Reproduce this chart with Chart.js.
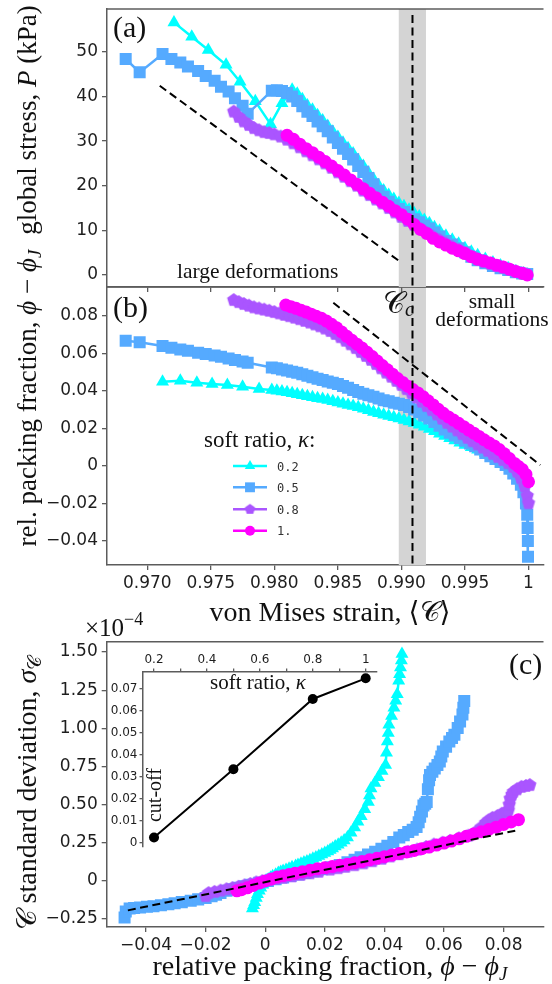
<!DOCTYPE html>
<html><head><meta charset="utf-8">
<script src="https://cdn.jsdelivr.net/npm/chart.js@4.4.0/dist/chart.umd.min.js"></script>
<style>
html,body{margin:0;padding:0;background:#fff;}
#wrap{position:relative;width:552px;height:984px;overflow:hidden;background:#fff;}
canvas{position:absolute;left:0;top:0;}
svg{position:absolute;left:0;top:0;pointer-events:none;}
</style></head><body>
<div id="wrap">
<canvas id="cb" width="552" height="984"></canvas>
<canvas id="ca" width="552" height="984"></canvas>
<canvas id="cc" width="552" height="984"></canvas>
<canvas id="ci" width="552" height="984"></canvas>
<svg width="552" height="984" font-family="'Liberation Serif','DejaVu Serif',serif" fill="#111">
<text x="113" y="37" font-size="30">(a)</text>
<text x="113" y="317" font-size="30">(b)</text>
<text x="509" y="674" font-size="30">(c)</text>
<text x="177" y="278" font-size="21.5">large deformations</text>
<text x="492" y="308" font-size="21.5" text-anchor="middle">small</text>
<text x="492" y="326" font-size="21.5" text-anchor="middle">deformations</text>
<text x="383" y="313" font-size="30">𝒞<tspan font-size="20" font-style="italic" dy="3">c</tspan></text>
<text x="204" y="447" font-size="23">soft ratio, <tspan font-style="italic">κ</tspan>:</text>
<g font-family="'DejaVu Sans Mono',monospace" font-size="12" fill="#333">
<text x="277" y="470.5">0.2</text>
<text x="277" y="491.8">0.5</text>
<text x="277" y="513.8">0.8</text>
<text x="277" y="535.2">1.</text>
</g>
<text transform="translate(36,120) rotate(-90)" text-anchor="middle" font-size="27">global stress, <tspan font-style="italic">P</tspan> (kPa)</text>
<text transform="translate(36,398) rotate(-90)" text-anchor="middle" font-size="27">rel. packing fraction, <tspan font-style="italic">ϕ</tspan> − <tspan font-style="italic">ϕ</tspan><tspan font-style="italic" font-size="19" dy="5">J</tspan></text>
<text transform="translate(36,793) rotate(-90)" text-anchor="middle" font-size="28">𝒞 standard deviation, <tspan font-style="italic">σ</tspan><tspan font-size="19" dy="5">𝒞</tspan></text>
<text x="330" y="621" text-anchor="middle" font-size="28">von Mises strain, ⟨𝒞⟩</text>
<text x="330" y="975" text-anchor="middle" font-size="28">relative packing fraction, <tspan font-style="italic">ϕ</tspan> − <tspan font-style="italic">ϕ</tspan><tspan font-style="italic" font-size="19" dy="5">J</tspan></text>
<text x="85" y="636" font-size="25">×10<tspan font-size="18" dy="-11">−4</tspan></text>
<text x="258" y="689" text-anchor="middle" font-size="21">soft ratio, <tspan font-style="italic">κ</tspan></text>
<text transform="translate(161,795) rotate(-90)" text-anchor="middle" font-size="20">cut-off</text>
</svg>
</div>
<script>
// ---------------- DATA ----------------
const seriesLabels = ['0.2', '0.5', '0.8', '1.'];

// Panel (a): global stress P (kPa) vs von Mises strain
const strainA_k02 = [0.9721,0.9735,0.9748,0.9762,0.9773,0.9785,0.9797,0.9806,0.9814,0.9818,0.9822,0.9826,0.9830,0.9834,0.9838,0.9842,0.9846,0.9850,0.9854,0.9858,0.9862,0.9866,0.9870,0.9874,0.9878,0.9882,0.9886,0.9890,0.9894,0.9898,0.9902,0.9906,0.9910,0.9914,0.9918,0.9922,0.9926,0.9930,0.9935,0.9940,0.9945,0.9950,0.9955,0.9960,0.9966,0.9972,0.9978,0.9984,0.9990,0.9996];
const stressA_k02 = [56.6,53.4,50.4,47.1,43.3,38.9,33.8,38.5,41.5,40.6,39.4,38.0,37.0,35.8,34.6,33.4,32.1,30.9,29.6,28.4,27.2,25.7,24.4,22.9,21.5,20.1,18.9,17.9,17.0,16.1,15.4,14.6,13.8,13.1,12.3,11.6,10.7,9.9,8.8,7.9,7.0,6.0,5.2,4.4,3.6,2.8,2.1,1.5,0.8,0.3];
const strainA_k05 = [0.9683,0.9694,0.9712,0.9719,0.9726,0.9732,0.9740,0.9746,0.9753,0.9758,0.9764,0.9769,0.9775,0.9779,0.9798,0.9802,0.9806,0.9810,0.9814,0.9818,0.9822,0.9826,0.9830,0.9834,0.9838,0.9842,0.9846,0.9850,0.9854,0.9858,0.9862,0.9866,0.9870,0.9874,0.9878,0.9882,0.9886,0.9890,0.9894,0.9898,0.9902,0.9906,0.9910,0.9914,0.9918,0.9922,0.9926,0.9930,0.9935,0.9940,0.9945,0.9950,0.9955,0.9960,0.9966,0.9972,0.9978,0.9984,0.9990,0.9995,0.9999];
const stressA_k05 = [48.4,45.4,49.5,48.4,47.6,46.7,45.7,44.6,43.5,42.2,41.1,39.6,37.9,36.1,41.3,41.4,41.2,40.8,40.0,39.0,37.8,36.6,35.6,34.4,33.3,32.2,30.8,29.6,28.3,27.1,25.9,24.4,23.1,21.7,20.3,18.8,17.5,16.4,15.6,14.8,14.1,13.3,12.5,11.8,11.1,10.4,9.5,8.6,7.6,6.8,6.0,5.1,4.1,3.3,2.6,2.0,1.5,1.1,0.6,0.3,0.2];
const strainA_k08 = [0.9768,0.9772,0.9776,0.9780,0.9784,0.9788,0.9792,0.9796,0.9800,0.9805,0.9810,0.9815,0.9820,0.9825,0.9830,0.9835,0.9840,0.9845,0.9850,0.9855,0.9860,0.9865,0.9870,0.9875,0.9880,0.9885,0.9890,0.9895,0.9900,0.9905,0.9910,0.9915,0.9920,0.9925,0.9930,0.9935,0.9940,0.9945,0.9950,0.9955,0.9960,0.9965,0.9970,0.9975,0.9980,0.9985,0.9990,0.9996];
const stressA_k08 = [36.6,35.4,34.4,33.6,32.9,32.4,32.0,31.8,31.5,31.0,30.3,29.5,28.6,27.7,26.8,25.9,25.0,24.0,23.0,22.0,21.0,20.0,18.9,17.9,16.9,16.0,15.0,14.0,13.0,12.1,11.2,10.3,9.4,8.6,7.8,7.0,6.3,5.6,4.9,4.2,3.6,3.0,2.5,2.0,1.6,1.2,0.8,0.3];
const strainA_k10 = [0.9810,0.9815,0.9820,0.9825,0.9830,0.9835,0.9840,0.9845,0.9850,0.9855,0.9860,0.9865,0.9870,0.9875,0.9880,0.9885,0.9890,0.9895,0.9900,0.9905,0.9910,0.9915,0.9920,0.9925,0.9930,0.9935,0.9940,0.9945,0.9950,0.9955,0.9960,0.9965,0.9970,0.9975,0.9980,0.9985,0.9990,0.9995,0.9999];
const stressA_k10 = [31.3,30.4,29.3,28.3,27.4,26.4,25.4,24.4,23.4,22.4,21.3,20.3,19.3,18.3,17.3,16.3,15.4,14.4,13.5,12.5,11.3,10.2,9.3,8.2,7.4,6.7,6.0,5.4,4.8,4.1,3.5,3.1,2.7,2.2,1.8,1.3,0.8,0.4,0.0];
const guideA_x = [0.97098, 0.98983];
const guideA_y = [42.4, 3.1];

// Panel (b): relative packing fraction vs von Mises strain
const strainB_k02 = [0.9712,0.9726,0.9739,0.9751,0.9763,0.9775,0.9788,0.9798,0.9802,0.9806,0.9810,0.9814,0.9818,0.9822,0.9826,0.9830,0.9834,0.9838,0.9842,0.9846,0.9850,0.9854,0.9858,0.9862,0.9866,0.9870,0.9874,0.9878,0.9882,0.9886,0.9890,0.9894,0.9898,0.9902,0.9906,0.9910,0.9914,0.9918,0.9922,0.9926,0.9930,0.9934,0.9938,0.9942,0.9946,0.9950,0.9955,0.9960,0.9966,0.9972,0.9978,0.9984,0.9990,0.9996];
const phiB_k02 = [0.0450,0.0455,0.0444,0.0437,0.0432,0.0423,0.0411,0.0405,0.0401,0.0397,0.0393,0.0388,0.0383,0.0378,0.0372,0.0367,0.0362,0.0357,0.0352,0.0346,0.0339,0.0332,0.0326,0.0320,0.0313,0.0306,0.0297,0.0288,0.0281,0.0274,0.0267,0.0260,0.0253,0.0246,0.0238,0.0229,0.0220,0.0209,0.0197,0.0185,0.0172,0.0160,0.0148,0.0136,0.0124,0.0112,0.0100,0.0087,0.0070,0.0052,0.0035,0.0018,0.0000,-0.0040];
const strainB_k05 = [0.9683,0.9694,0.9712,0.9719,0.9726,0.9732,0.9740,0.9746,0.9753,0.9758,0.9764,0.9769,0.9775,0.9779,0.9798,0.9802,0.9806,0.9810,0.9814,0.9818,0.9822,0.9826,0.9830,0.9834,0.9838,0.9842,0.9846,0.9850,0.9854,0.9858,0.9862,0.9866,0.9870,0.9874,0.9878,0.9882,0.9886,0.9890,0.9894,0.9898,0.9902,0.9906,0.9910,0.9914,0.9918,0.9922,0.9926,0.9930,0.9934,0.9938,0.9942,0.9946,0.9950,0.9954,0.9958,0.9962,0.9966,0.9970,0.9974,0.9978,0.9982,0.9985,0.9988,0.9991,0.9994,0.9996,0.9998,0.9999,0.99993,0.99995,0.99996];
const phiB_k05 = [0.0668,0.0660,0.0640,0.0631,0.0622,0.0615,0.0604,0.0597,0.0590,0.0583,0.0574,0.0565,0.0558,0.0551,0.0526,0.0521,0.0515,0.0510,0.0503,0.0497,0.0489,0.0481,0.0474,0.0466,0.0459,0.0451,0.0444,0.0437,0.0427,0.0417,0.0406,0.0395,0.0386,0.0377,0.0369,0.0360,0.0351,0.0345,0.0338,0.0332,0.0326,0.0315,0.0302,0.0287,0.0270,0.0253,0.0235,0.0215,0.0195,0.0178,0.0163,0.0150,0.0135,0.0120,0.0105,0.0088,0.0070,0.0052,0.0038,0.0022,0.0005,-0.0015,-0.0040,-0.0068,-0.0100,-0.0140,-0.0200,-0.0260,-0.0330,-0.0400,-0.0484];
const strainB_k08 = [0.9768,0.9772,0.9776,0.9780,0.9784,0.9788,0.9792,0.9796,0.9800,0.9804,0.9808,0.9812,0.9816,0.9820,0.9824,0.9828,0.9832,0.9836,0.9840,0.9844,0.9848,0.9852,0.9856,0.9860,0.9864,0.9868,0.9872,0.9876,0.9880,0.9884,0.9888,0.9892,0.9896,0.9900,0.9904,0.9908,0.9912,0.9916,0.9920,0.9924,0.9928,0.9932,0.9936,0.9940,0.9944,0.9948,0.9952,0.9956,0.9960,0.9964,0.9968,0.9972,0.9976,0.9980,0.9984,0.9988,0.9991,0.9994,0.9997,0.9999,1.0000];
const phiB_k08 = [0.0885,0.0874,0.0864,0.0855,0.0846,0.0840,0.0834,0.0828,0.0821,0.0814,0.0806,0.0799,0.0791,0.0783,0.0774,0.0765,0.0755,0.0745,0.0733,0.0720,0.0704,0.0687,0.0668,0.0649,0.0629,0.0608,0.0587,0.0566,0.0544,0.0521,0.0498,0.0476,0.0454,0.0432,0.0410,0.0388,0.0366,0.0343,0.0320,0.0298,0.0275,0.0252,0.0230,0.0210,0.0190,0.0170,0.0150,0.0132,0.0115,0.0098,0.0081,0.0064,0.0048,0.0032,0.0015,-0.0005,-0.0030,-0.0065,-0.0110,-0.0160,-0.0199];
const strainB_k10 = [0.9809,0.9813,0.9817,0.9821,0.9825,0.9829,0.9833,0.9837,0.9841,0.9845,0.9849,0.9853,0.9857,0.9861,0.9865,0.9869,0.9873,0.9877,0.9881,0.9885,0.9889,0.9893,0.9897,0.9901,0.9905,0.9909,0.9913,0.9917,0.9921,0.9925,0.9929,0.9933,0.9937,0.9941,0.9945,0.9949,0.9953,0.9957,0.9961,0.9965,0.9969,0.9973,0.9977,0.9981,0.9985,0.9989,0.9992,0.9995,0.9998,1.0000];
const phiB_k10 = [0.0859,0.0850,0.0841,0.0831,0.0821,0.0810,0.0799,0.0788,0.0773,0.0756,0.0737,0.0715,0.0692,0.0671,0.0650,0.0629,0.0607,0.0584,0.0560,0.0536,0.0513,0.0490,0.0467,0.0446,0.0426,0.0408,0.0390,0.0370,0.0348,0.0326,0.0303,0.0281,0.0262,0.0245,0.0228,0.0210,0.0192,0.0175,0.0158,0.0140,0.0123,0.0107,0.0088,0.0065,0.0040,0.0014,-0.0002,-0.0018,-0.0045,-0.0084];
const guideB_x = [0.98464, 1.00093];
const guideB_y = [0.0871, 0.0005];

// Critical strain C_c and its band
const ccValue = 0.99087;
const ccBand = [0.98979, 0.99193];

// Panel (c): standard deviation (x1e-4) vs relative packing fraction
const phiC_k02 = [-0.0043,-0.0039,-0.0035,-0.0030,-0.0026,-0.0020,-0.0015,-0.0008,-0.0003,0.0003,0.0010,0.0018,0.0025,0.0035,0.0044,0.0052,0.0060,0.0070,0.0080,0.0090,0.0102,0.0110,0.0120,0.0130,0.0140,0.0150,0.0160,0.0170,0.0180,0.0190,0.0200,0.0210,0.0218,0.0226,0.0235,0.0245,0.0255,0.0265,0.0276,0.0288,0.0300,0.0311,0.0322,0.0334,0.0346,0.0350,0.0355,0.0368,0.0380,0.0392,0.0404,0.0407,0.0410,0.0413,0.0415,0.0424,0.0432,0.0438,0.0443,0.0448,0.0451,0.0454,0.0457,0.0459];
const sigC_k02 = [-0.181,-0.160,-0.140,-0.112,-0.088,-0.065,-0.045,-0.025,-0.007,0.003,0.010,0.020,0.030,0.041,0.052,0.058,0.065,0.072,0.080,0.089,0.098,0.104,0.112,0.120,0.128,0.136,0.145,0.154,0.163,0.173,0.183,0.193,0.203,0.213,0.225,0.237,0.250,0.265,0.284,0.315,0.350,0.387,0.424,0.470,0.517,0.560,0.605,0.642,0.680,0.720,0.760,0.840,0.914,0.970,1.024,1.080,1.134,1.180,1.223,1.311,1.355,1.399,1.445,1.487];
const phiC_k05 = [-0.0472,-0.0468,-0.0455,-0.0440,-0.0420,-0.0397,-0.0375,-0.0350,-0.0325,-0.0304,-0.0280,-0.0250,-0.0225,-0.0200,-0.0180,-0.0165,-0.0150,-0.0130,-0.0110,-0.0090,-0.0070,-0.0050,-0.0020,0.0009,0.0035,0.0060,0.0085,0.0110,0.0135,0.0160,0.0190,0.0220,0.0250,0.0276,0.0300,0.0320,0.0345,0.0369,0.0390,0.0410,0.0430,0.0450,0.0465,0.0480,0.0495,0.0508,0.0515,0.0520,0.0526,0.0531,0.0537,0.0542,0.0546,0.0550,0.0553,0.0561,0.0569,0.0578,0.0586,0.0591,0.0596,0.0607,0.0618,0.0627,0.0635,0.0646,0.0654,0.0662,0.0665,0.0668];
const sigC_k05 = [-0.239,-0.200,-0.181,-0.178,-0.174,-0.170,-0.166,-0.160,-0.153,-0.146,-0.139,-0.130,-0.121,-0.112,-0.100,-0.090,-0.079,-0.065,-0.055,-0.045,-0.035,-0.025,-0.012,0.000,0.011,0.022,0.032,0.042,0.052,0.063,0.076,0.090,0.105,0.122,0.138,0.155,0.173,0.191,0.210,0.230,0.255,0.284,0.300,0.320,0.336,0.354,0.385,0.420,0.455,0.494,0.505,0.517,0.600,0.660,0.694,0.715,0.737,0.760,0.782,0.815,0.848,0.880,0.914,0.936,0.958,1.002,1.045,1.090,1.135,1.179];
const phiC_k08 = [-0.0200,-0.0190,-0.0170,-0.0150,-0.0130,-0.0110,-0.0090,-0.0070,-0.0050,-0.0030,-0.0010,0.0010,0.0035,0.0060,0.0090,0.0120,0.0150,0.0180,0.0218,0.0245,0.0270,0.0300,0.0330,0.0360,0.0392,0.0420,0.0450,0.0480,0.0510,0.0540,0.0566,0.0595,0.0620,0.0650,0.0682,0.0706,0.0725,0.0740,0.0750,0.0763,0.0780,0.0794,0.0810,0.0816,0.0819,0.0822,0.0828,0.0833,0.0845,0.0860,0.0875,0.0888];
const sigC_k08 = [-0.100,-0.080,-0.072,-0.064,-0.055,-0.047,-0.039,-0.030,-0.020,-0.010,-0.002,0.005,0.013,0.020,0.030,0.040,0.050,0.060,0.074,0.083,0.092,0.103,0.115,0.129,0.145,0.160,0.175,0.190,0.205,0.222,0.238,0.250,0.262,0.278,0.296,0.319,0.350,0.380,0.396,0.413,0.425,0.440,0.452,0.462,0.500,0.539,0.565,0.583,0.600,0.616,0.622,0.628];
const phiC_k10 = [-0.0095,-0.0080,-0.0060,-0.0040,-0.0020,0.0000,0.0020,0.0040,0.0060,0.0080,0.0100,0.0125,0.0150,0.0175,0.0200,0.0225,0.0250,0.0276,0.0300,0.0325,0.0350,0.0375,0.0400,0.0425,0.0450,0.0475,0.0500,0.0525,0.0550,0.0575,0.0600,0.0625,0.0650,0.0675,0.0700,0.0725,0.0750,0.0775,0.0800,0.0825,0.0850];
const sigC_k10 = [-0.065,-0.058,-0.045,-0.030,-0.014,0.000,0.012,0.025,0.034,0.042,0.050,0.060,0.070,0.079,0.086,0.094,0.102,0.110,0.119,0.128,0.138,0.148,0.159,0.169,0.180,0.190,0.200,0.211,0.222,0.235,0.248,0.261,0.276,0.292,0.308,0.322,0.337,0.352,0.370,0.386,0.401];
const guideC_x = [-0.0461, 0.0844];
const guideC_y = [-0.193, 0.331];

// Inset: cut-off vs soft ratio
const insetKappa = [0.2, 0.5, 0.8, 1.0];
const insetCutoff = [0.0025, 0.0335, 0.0655, 0.0749];

// Tick values and labels
const xTicksAB = [0.970, 0.975, 0.980, 0.985, 0.990, 0.995, 1.0];
const xLabelsAB = ['0.970', '0.975', '0.980', '0.985', '0.990', '0.995', '1'];
const yTicksA = [0, 10, 20, 30, 40, 50];
const yLabelsA = ['0', '10', '20', '30', '40', '50'];
const yTicksB = [-0.04, -0.02, 0, 0.02, 0.04, 0.06, 0.08];
const yLabelsB = ['\u22120.04', '\u22120.02', '0', '0.02', '0.04', '0.06', '0.08'];
const xTicksC = [-0.04, -0.02, 0, 0.02, 0.04, 0.06, 0.08];
const xLabelsC = ['\u22120.04', '\u22120.02', '0', '0.02', '0.04', '0.06', '0.08'];
const yTicksC = [-0.25, 0, 0.25, 0.5, 0.75, 1.0, 1.25, 1.5];
const yLabelsC = ['\u22120.25', '0', '0.25', '0.50', '0.75', '1.00', '1.25', '1.50'];
const xTicksInset = [0.2, 0.3, 0.4, 0.5, 0.6, 0.7, 0.8, 0.9, 1.0];
const xLabelsInset = ['0.2', '', '0.4', '', '0.6', '', '0.8', '', '1'];
const yTicksInset = [0, 0.01, 0.02, 0.03, 0.04, 0.05, 0.06, 0.07];
const yLabelsInset = ['0', '0.01', '0.02', '0.03', '0.04', '0.05', '0.06', '0.07'];

// ---------------- STYLE / HELPERS ----------------
const AX = '#5c5c5c';
const TXT = '#1e1e1e';
const COLORS = ['#00ffff', '#55aaff', '#aa55ff', '#ff00ff'];
Chart.defaults.font.family = 'DejaVu Sans';
Chart.defaults.color = TXT;

function pentagon(color, r) {
  const c = document.createElement('canvas');
  const s = Math.ceil(2 * r + 2);
  c.width = s; c.height = s;
  const g = c.getContext('2d');
  g.fillStyle = color; g.beginPath();
  for (let i = 0; i < 5; i++) {
    const a = -Math.PI / 2 + i * 2 * Math.PI / 5;
    const px = s / 2 + r * Math.cos(a), py = s / 2 + r * Math.sin(a);
    if (i) g.lineTo(px, py); else g.moveTo(px, py);
  }
  g.closePath(); g.fill();
  return c;
}
const STYLES = ['triangle', 'rect', pentagon(COLORS[2], 7), 'circle'];
const RADII = [7.5, 8.5, 7, 6.5];
const LEGEND_STYLES = ['triangle', 'rect', pentagon(COLORS[2], 5.5), 'circle'];
const LEGEND_RADII = [6, 7, 5.5, 5];

function pts(xs, ys) { return xs.map((x, i) => ({x: x, y: ys[i]})); }
function setTicks(vals) { return s => { s.ticks = vals.map(v => ({value: v})); }; }

function xScale(o) {
  return {
    type: 'linear', position: o.position || 'bottom', min: o.min, max: o.max,
    afterBuildTicks: setTicks(o.ticks),
    afterFit: s => { s.height = o.size; s.paddingLeft = 0; s.paddingRight = 0; },
    grid: {display: true, drawOnChartArea: false, drawTicks: true, tickLength: o.tl || 5, color: AX, lineWidth: 1.3},
    border: {display: true, color: AX, width: 1.5},
    ticks: {display: !!o.labels, autoSkip: false, maxRotation: 0, minRotation: 0, padding: o.pad || 3,
      color: TXT, font: {family: 'DejaVu Sans', size: o.fs || 17},
      callback: (v, i) => (o.labels ? o.labels[i] : '')}
  };
}
function yScale(o) {
  return {
    type: 'linear', position: 'left', min: o.min, max: o.max,
    afterBuildTicks: setTicks(o.ticks),
    afterFit: s => { s.width = o.size; s.paddingTop = 0; s.paddingBottom = 0; },
    grid: {display: true, drawOnChartArea: false, drawTicks: true, tickLength: o.tl || 5, color: AX, lineWidth: 1.3},
    border: {display: true, color: AX, width: 1.5},
    ticks: {display: true, autoSkip: false, padding: o.pad || 4, color: TXT,
      font: {family: 'DejaVu Sans', size: o.fs || 17},
      callback: (v, i) => o.labels[i]}
  };
}
function series(xs, ys, k) {
  return {
    data: pts(xs, ys), borderColor: COLORS[k], backgroundColor: COLORS[k],
    pointBackgroundColor: COLORS[k], pointBorderColor: COLORS[k], pointBorderWidth: 0,
    pointStyle: STYLES[k], pointRadius: RADII[k], borderWidth: 2.5, tension: 0,
    order: 10 - k, fill: false
  };
}
function guide(xs, ys) {
  return {data: pts(xs, ys), borderColor: '#000', borderWidth: 2, borderDash: [8, 4.5],
    pointRadius: 0, order: 0, fill: false, tension: 0};
}

const frameTop = {
  id: 'frameTop',
  afterDraw(chart) {
    const {ctx, chartArea: a} = chart;
    ctx.save(); ctx.strokeStyle = AX; ctx.lineWidth = 1.5;
    ctx.beginPath(); ctx.moveTo(a.left, a.top); ctx.lineTo(a.right, a.top); ctx.stroke();
    ctx.restore();
  }
};
const bandPlugin = {
  id: 'ccBand',
  beforeDatasetsDraw(chart) {
    const {ctx, chartArea: a} = chart; const sx = chart.scales.x;
    const x0 = sx.getPixelForValue(ccBand[0]), x1 = sx.getPixelForValue(ccBand[1]);
    ctx.save(); ctx.fillStyle = '#d4d4d4'; ctx.fillRect(x0, a.top, x1 - x0, a.bottom - a.top); ctx.restore();
  },
  afterDatasetsDraw(chart) {
    const {ctx, chartArea: a} = chart; const sx = chart.scales.x;
    const xc = sx.getPixelForValue(ccValue);
    ctx.save(); ctx.strokeStyle = '#000'; ctx.lineWidth = 2; ctx.setLineDash([8, 4.5]);
    ctx.beginPath(); ctx.moveTo(xc, a.top + 6); ctx.lineTo(xc, a.bottom); ctx.stroke(); ctx.restore();
  }
};
function drawMarker(ctx, style, x, y, r) {
  if (style instanceof HTMLCanvasElement) { ctx.drawImage(style, x - style.width / 2, y - style.height / 2); return; }
  ctx.beginPath();
  if (style === 'circle') ctx.arc(x, y, r, 0, 2 * Math.PI);
  else if (style === 'rect') { const s = r * Math.SQRT1_2; ctx.rect(x - s, y - s, 2 * s, 2 * s); }
  else if (style === 'triangle') {
    ctx.moveTo(x, y - r);
    ctx.lineTo(x + r * Math.sin(2 * Math.PI / 3), y - r * Math.cos(2 * Math.PI / 3));
    ctx.lineTo(x + r * Math.sin(4 * Math.PI / 3), y - r * Math.cos(4 * Math.PI / 3));
    ctx.closePath();
  }
  ctx.fill();
}
const legendPlugin = {
  id: 'kLegend',
  afterDraw(chart) {
    const {ctx} = chart;
    const rows = [466, 487.3, 509.3, 530.7];
    ctx.save();
    seriesLabels.forEach((lab, k) => {
      ctx.strokeStyle = COLORS[k]; ctx.fillStyle = COLORS[k]; ctx.lineWidth = 2.5;
      ctx.beginPath(); ctx.moveTo(233, rows[k]); ctx.lineTo(267, rows[k]); ctx.stroke();
      drawMarker(ctx, LEGEND_STYLES[k], 250, rows[k], LEGEND_RADII[k]);
    });
    ctx.restore();
  }
};

const common = {responsive: false, animation: false, events: [],
  plugins: {legend: {display: false}, tooltip: {enabled: false}}};

// ---------------- PANEL (a) ----------------
new Chart(document.getElementById('ca'), {
  type: 'line',
  data: {datasets: [
    series(strainA_k02, stressA_k02, 0), series(strainA_k05, stressA_k05, 1),
    series(strainA_k08, stressA_k08, 2), series(strainA_k10, stressA_k10, 3),
    guide(guideA_x, guideA_y)
  ]},
  options: Object.assign({}, common, {
    layout: {padding: {left: 0, top: 9, right: 0, bottom: 0}},
    scales: {
      x: xScale({min: 0.96683, max: 1.00118, ticks: xTicksAB, labels: null, size: 984 - 287}),
      y: yScale({min: -2.7, max: 59.6, ticks: yTicksA, labels: yLabelsA, size: 107})
    }
  }),
  plugins: [bandPlugin, frameTop]
});

// ---------------- PANEL (b) ----------------
new Chart(document.getElementById('cb'), {
  type: 'line',
  data: {datasets: [
    series(strainB_k02, phiB_k02, 0), series(strainB_k05, phiB_k05, 1),
    series(strainB_k08, phiB_k08, 2), series(strainB_k10, phiB_k10, 3),
    guide(guideB_x, guideB_y)
  ]},
  options: Object.assign({}, common, {
    layout: {padding: {left: 0, top: 287, right: 0, bottom: 0}},
    scales: {
      x: xScale({min: 0.96683, max: 1.00118, ticks: xTicksAB, labels: xLabelsAB, size: 984 - 565}),
      y: yScale({min: -0.0528, max: 0.0955, ticks: yTicksB, labels: yLabelsB, size: 107})
    }
  }),
  plugins: [bandPlugin, legendPlugin, frameTop]
});

// ---------------- PANEL (c) ----------------
new Chart(document.getElementById('cc'), {
  type: 'line',
  data: {datasets: [
    series(phiC_k02, sigC_k02, 0), series(phiC_k05, sigC_k05, 1),
    series(phiC_k08, sigC_k08, 2), series(phiC_k10, sigC_k10, 3),
    guide(guideC_x, guideC_y)
  ]},
  options: Object.assign({}, common, {
    layout: {padding: {left: 0, top: 641.7, right: 0, bottom: 0}},
    scales: {
      x: xScale({min: -0.0532, max: 0.0934, ticks: xTicksC, labels: xLabelsC, size: 984 - 927}),
      y: yScale({min: -0.302, max: 1.5675, ticks: yTicksC, labels: yLabelsC, size: 106.7})
    }
  }),
  plugins: [frameTop]
});

// ---------------- INSET ----------------
new Chart(document.getElementById('ci'), {
  type: 'line',
  data: {datasets: [{
    data: pts(insetKappa, insetCutoff), borderColor: '#000', backgroundColor: '#000',
    pointBackgroundColor: '#000', pointBorderWidth: 0, pointRadius: 5, borderWidth: 2, tension: 0, fill: false
  }]},
  options: Object.assign({}, common, {
    layout: {padding: {left: 0, top: 0, right: 552 - 376.7, bottom: 984 - 846.5}},
    scales: {
      x: xScale({position: 'top', min: 0.1565, max: 1.0416, ticks: xTicksInset, labels: xLabelsInset,
        size: 671.5, tl: 3, pad: 1, fs: 12}),
      y: yScale({min: -0.0016, max: 0.078, ticks: yTicksInset, labels: yLabelsInset, size: 142.5, tl: 3, pad: 2, fs: 12})
    }
  })
});
</script>
</body></html>
